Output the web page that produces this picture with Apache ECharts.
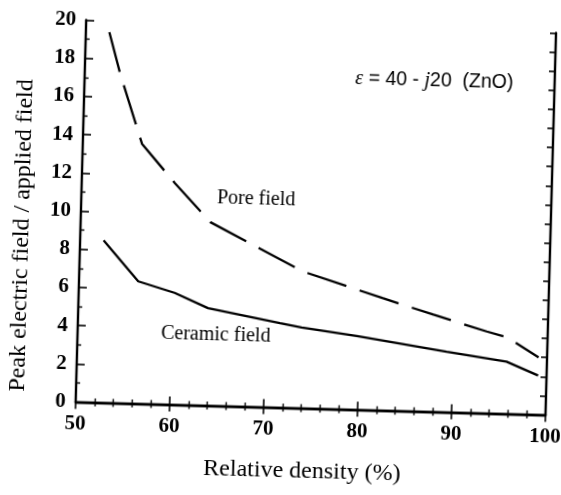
<!DOCTYPE html>
<html>
<head>
<meta charset="utf-8">
<script src="https://cdn.jsdelivr.net/npm/echarts@6/dist/echarts.min.js"></script>
<style>
  html, body { margin: 0; padding: 0; background: #fff; overflow: hidden; }
  /* the scanned figure is tilted a little clockwise; the box runs past the
     right edge of the page so the last tick label is not cut off */
  #chart { position: absolute; left: 0; top: 0; width: 581px; height: 495px; transform: rotate(1.58deg); transform-origin: 280.5px 247.5px; }
</style>
</head>
<body>
<div id="chart"></div>
<script>
// relative density (%) and peak field ratio
const poreDensity = [52.5, 53.8, 56.3, 59.9, 63.8, 73.8, 82.3, 87.8, 93.5, 95.7, 99.1];
const poreField = [19.4, 17.2, 13.6, 11.6, 9.6, 7.15, 5.88, 5.08, 4.28, 4.0, 3.0];
const ceramicDensity = [52.5, 56.3, 60.2, 63.8, 71.5, 73.8, 79.7, 89.3, 95.7, 99.1];
const ceramicField = [8.5, 6.4, 5.85, 5.1, 4.42, 4.22, 3.85, 3.16, 2.73, 2.05];

const xTicks = [50, 60, 70, 80, 90, 100];
const yTicks = [0, 2, 4, 6, 8, 10, 12, 14, 16, 18, 20];

// label anchors in data units
const poreLabelAt = [68.6, 10.9];
const ceramicLabelAt = [64.7, 3.7];
const epsLabelAt = [87.2, 17.3];

const zip = (xs, ys) => xs.map((x, i) => [x, ys[i]]);

const serif = '"Liberation Serif", "Times New Roman", serif';
const tickFont = { color: '#000', fontFamily: serif, fontWeight: 'bold', fontSize: 21 };

const chart = echarts.init(document.getElementById('chart'), null, { renderer: 'canvas', width: 581, height: 495 });

const axisLine = { show: true, lineStyle: { color: '#000', width: 2.4 } };

function textMark(coord, text, style) {
  return {
    coord: coord,
    symbol: 'rect',
    symbolSize: 1,
    itemStyle: { color: 'rgba(0,0,0,0)' },
    label: Object.assign({ show: true, position: 'inside', formatter: text, color: '#000' }, style)
  };
}

chart.setOption({
  backgroundColor: '#fff',
  animation: false,
  grid: { left: 80, right: 31, top: 25.5, bottom: 87.5, outerBoundsMode: 'none' },
  xAxis: [
    {
      type: 'value', position: 'bottom',
      min: xTicks[0], max: xTicks[xTicks.length - 1], interval: 10,
      axisLine: axisLine,
      axisTick: { inside: true, length: 8, lineStyle: { color: '#000', width: 1.6 } },
      minorTick: { show: true, splitNumber: 5, length: 4, lineStyle: { color: '#000', width: 1.4 } },
      splitLine: { show: false },
      axisLabel: Object.assign({ margin: 12 }, tickFont),
      name: 'Relative density (%)',
      nameLocation: 'middle',
      nameGap: 51,
      nameTextStyle: { color: '#000', fontFamily: serif, fontSize: 24, padding: [0, 14, 0, 0] }
    },
    {
      type: 'value', position: 'top',
      min: xTicks[0], max: xTicks[xTicks.length - 1], interval: 10,
      axisLine: axisLine,
      axisTick: { inside: true, length: 7, lineStyle: { color: '#000', width: 1.6 } },
      minorTick: { show: true, splitNumber: 5, length: 4, lineStyle: { color: '#000', width: 1.4 } },
      splitLine: { show: false },
      axisLabel: { show: false }
    }
  ],
  yAxis: [
    {
      type: 'value', position: 'left',
      min: yTicks[0], max: yTicks[yTicks.length - 1], interval: 2,
      axisLine: axisLine,
      axisTick: { inside: true, length: 8, lineStyle: { color: '#000', width: 1.6 } },
      minorTick: { show: true, splitNumber: 2, length: 4, lineStyle: { color: '#000', width: 1.4 } },
      splitLine: { show: false },
      axisLabel: Object.assign({ margin: 10 }, tickFont),
      name: 'Peak electric field / applied field',
      nameLocation: 'middle',
      nameGap: 46,
      nameTextStyle: { color: '#000', fontFamily: serif, fontSize: 24, padding: [0, 52, 0, 0] }
    },
    {
      type: 'value', position: 'right',
      min: yTicks[0], max: yTicks[yTicks.length - 1], interval: 1,
      axisLine: axisLine,
      axisTick: { inside: true, length: 6, lineStyle: { color: '#000', width: 1.6 } },
      splitLine: { show: false },
      axisLabel: { show: false }
    }
  ],
  series: [
    {
      name: 'Pore field',
      type: 'line',
      data: zip(poreDensity, poreField),
      showSymbol: false,
      lineStyle: { color: '#000', width: 2.3, type: [41, 14] },
      markPoint: {
        silent: true,
        data: [
          textMark(poreLabelAt, 'Pore field', { fontFamily: serif, fontSize: 20 }),
          textMark(epsLabelAt, '{i|ε} = 40 - {i|j}20  (ZnO)', {
            fontFamily: '"Liberation Sans", Arial, sans-serif', fontSize: 19.5,
            rich: { i: { fontStyle: 'italic', fontFamily: serif, fontSize: 20, color: '#000' } }
          })
        ]
      }
    },
    {
      name: 'Ceramic field',
      type: 'line',
      data: zip(ceramicDensity, ceramicField),
      showSymbol: false,
      lineStyle: { color: '#000', width: 2.3 },
      markPoint: {
        silent: true,
        data: [
          textMark(ceramicLabelAt, 'Ceramic field', { fontFamily: serif, fontSize: 20 })
        ]
      }
    }
  ]
});
</script>
</body>
</html>
